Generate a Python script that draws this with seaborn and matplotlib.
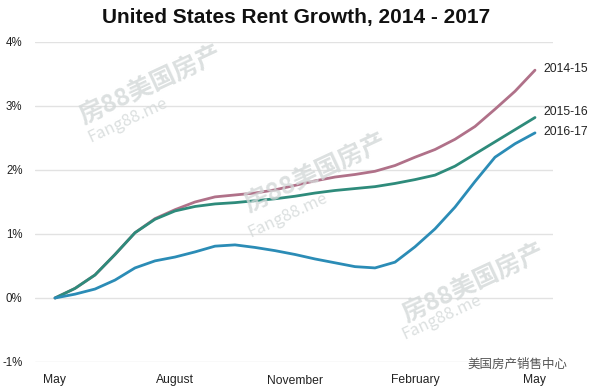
import matplotlib
matplotlib.use("Agg")
import matplotlib.pyplot as plt
import seaborn as sns
import pandas as pd

# ---- data (read every half month, May .. May) ----
months = [0, 0.5, 1, 1.5, 2, 2.5, 3, 3.5, 4, 4.5, 5, 5.5, 6, 6.5, 7, 7.5, 8, 8.5, 9, 9.5, 10, 10.5, 11, 11.5, 12]
tick_pos = [0, 3, 6, 9, 12]
tick_labels = ["May", "August", "November", "February", "May"]
s2014 = [0, 0.15, 0.36, 0.68, 1.02, 1.24, 1.38, 1.50, 1.58, 1.61, 1.64, 1.69, 1.76, 1.83, 1.89, 1.93,
         1.98, 2.07, 2.20, 2.32, 2.48, 2.68, 2.95, 3.23, 3.56]
s2015 = [0, 0.15, 0.36, 0.68, 1.02, 1.23, 1.36, 1.43, 1.47, 1.49, 1.52, 1.55, 1.59, 1.64, 1.68, 1.71,
         1.74, 1.79, 1.85, 1.92, 2.06, 2.25, 2.44, 2.63, 2.82]
s2016 = [0, 0.06, 0.14, 0.28, 0.47, 0.58, 0.64, 0.72, 0.81, 0.83, 0.79, 0.74, 0.68, 0.61, 0.55, 0.49,
         0.47, 0.56, 0.80, 1.08, 1.42, 1.82, 2.20, 2.41, 2.58]
series_names = ["2014-15", "2015-16", "2016-17"]
label_y = [3.58, 2.91, 2.59]
colors = ["#b07189", "#2e8b7b", "#2b8cb6"]

n = len(months)
df = pd.DataFrame({
    "month": months * 3,
    "value": s2014 + s2015 + s2016,
    "series": [series_names[0]] * n + [series_names[1]] * n + [series_names[2]] * n,
})

sns.set_theme(style="white")
plt.rcParams["font.family"] = ["Liberation Sans", "Noto Sans CJK SC", "DejaVu Sans"]

fig = plt.figure(figsize=(5.92, 3.89), dpi=100)
ax = fig.add_axes([35 / 592, 27 / 389, (553 - 35) / 592, (362 - 42) / 389])

# watermarks (faint)
wm = dict(color="#d3d8d8", alpha=0.8, rotation=25, ha="center", va="center",
          family=["Noto Sans CJK SC", "DejaVu Sans"], zorder=0)
for (cx, cy), (fx, fy) in [((150, 85), (128, 120)), ((315, 173), (288, 215)), ((473, 283), (442, 317))]:
    fig.text(cx / 592, 1 - cy / 389, "房88美国房产", fontsize=18, fontweight="bold", **wm)
    fig.text(fx / 592, 1 - fy / 389, "Fang88.me", fontsize=12, **wm)

sns.lineplot(data=df, x="month", y="value", hue="series", palette=colors,
             linewidth=2, ax=ax, legend=False, zorder=3)

ax.set_xlim(-0.5, 12.45)
ax.set_ylim(-1, 4)
ax.set_xticks(tick_pos)
ax.set_xticklabels(tick_labels)
ax.set_yticks([-1, 0, 1, 2, 3, 4])
ax.set_yticklabels(["-1%", "0%", "1%", "2%", "3%", "4%"])
ax.grid(axis="y", color="#e2e2e2", linewidth=1)
ax.set_axisbelow(True)
for sp in ax.spines.values():
    sp.set_visible(False)
ax.tick_params(axis="x", length=0, pad=9, labelsize=8.7, colors="#222222")
ax.tick_params(axis="y", length=0, pad=9, labelsize=8.3, colors="#222222")
ax.set_xlabel("")
ax.set_ylabel("")
ax.patch.set_alpha(0)

for name, y, c in zip(series_names, label_y, colors):
    ax.text(12.2, y, name, fontsize=8.7, color="#222222", va="center", ha="left", clip_on=False)

fig.text(0.5, 1 - 18 / 389, "United States Rent Growth, 2014 - 2017", ha="center", va="center",
         fontsize=15, fontweight="bold", color="#111111")

fig.text(517 / 592, 1 - 364 / 389, "美国房产销售中心", ha="center", va="center", fontsize=9,
         color="#555555", family=["Noto Sans CJK SC", "DejaVu Sans"])

fig.savefig("out.png", dpi=100)
